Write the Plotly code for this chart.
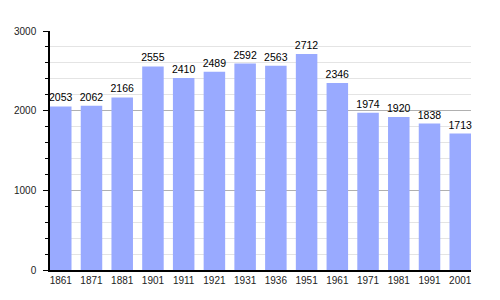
import plotly.graph_objects as go

years = ["1861", "1871", "1881", "1901", "1911", "1921", "1931", "1936",
         "1951", "1961", "1971", "1981", "1991", "2001"]
population = [2053, 2062, 2166, 2555, 2410, 2489, 2592, 2563,
              2712, 2346, 1974, 1920, 1838, 1713]

idx = list(range(len(years)))

fig = go.Figure(go.Bar(
    x=idx, y=population, width=0.7,
    marker=dict(color="#99aaff", line=dict(width=0)),
    text=[str(v) for v in population], textposition="outside",
    constraintext="none",
    textfont=dict(family="Liberation Sans, Arial", size=10.5, color="black"),
    cliponaxis=False,
))

fig.update_layout(
    width=500, height=300,
    margin=dict(l=50, r=29, t=31, b=30),
    paper_bgcolor="white", plot_bgcolor="white",
    showlegend=False,
    font=dict(family="Liberation Sans, Arial", size=10, color="black"),
)
fig.update_xaxes(
    range=[-0.35, len(years) - 1 + 0.35],
    tickmode="array", tickvals=idx, ticktext=years,
    showgrid=False, zeroline=False,
    showline=True, linecolor="black", linewidth=1.5,
    ticks="", tickfont=dict(size=10, color="#222"),
)
fig.update_yaxes(
    range=[0, 3000], dtick=1000,
    showgrid=True, gridcolor="#b0b0b0", gridwidth=1,
    zeroline=False,
    showline=True, linecolor="black", linewidth=1.5,
    ticks="outside", ticklen=5, tickcolor="black", tickwidth=1,
    ticklabelstandoff=5,
    minor=dict(dtick=200, showgrid=True, gridcolor="#e4e4e4", gridwidth=1,
               ticks="outside", ticklen=3, tickcolor="black"),
    tickfont=dict(size=10, color="#222"),
)

fig.write_html("out.html")
